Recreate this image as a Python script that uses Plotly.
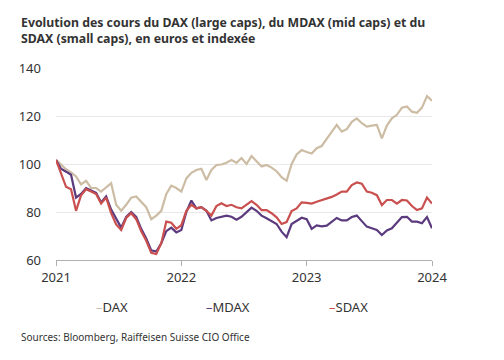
import pandas as pd
import plotly.graph_objects as go

# --- data (indexed, euros) ---
dax = [101.7, 99.6, 97.8, 96.5, 94.8, 91.5, 93.0, 90.0, 90.0, 88.5,
       90.3, 92.0, 83.0, 80.5, 83.0, 86.0, 86.5, 84.3, 82.0, 77.0,
       78.5, 80.5, 87.5, 91.0, 90.0, 88.5, 94.0, 96.3, 97.5, 98.0,
       93.3, 97.5, 99.6, 99.8, 100.5, 101.7, 100.5, 102.5, 100.0, 103.3,
       101.0, 99.0, 99.6, 98.5, 97.0, 94.5, 93.0, 100.0, 104.0, 105.8,
       105.0, 104.4, 106.6, 107.5, 110.5, 113.5, 116.3, 113.5, 114.5, 117.6,
       119.0, 117.0, 115.6, 116.0, 116.3, 110.7, 116.0, 119.0, 120.5, 123.5,
       124.0, 121.8, 121.3, 123.5, 128.3, 126.4]
mdax = [101.7, 98.0, 96.8, 95.5, 86.0, 87.5, 90.0, 89.0, 88.0, 84.0,
        86.5, 81.0, 77.0, 73.5, 78.0, 80.0, 78.0, 73.0, 69.0, 64.0,
        63.5, 67.0, 72.0, 73.5, 71.5, 72.5, 80.0, 84.8, 81.5, 82.0,
        80.5, 76.5, 77.5, 78.0, 78.5, 78.0, 76.8, 78.0, 80.0, 81.8,
        80.5, 78.5, 77.4, 76.2, 75.0, 71.8, 69.5, 75.0, 76.2, 77.6,
        77.0, 73.0, 74.4, 74.0, 74.3, 75.8, 77.5, 76.5, 76.5, 77.9,
        78.5, 76.2, 73.9, 73.2, 72.5, 70.4, 72.3, 73.2, 75.5, 77.9,
        78.0, 76.0, 76.0, 75.3, 77.9, 73.2]
sdax = [101.7, 96.0, 90.5, 89.5, 80.5, 87.0, 89.5, 88.5, 87.5, 83.5,
        86.0, 79.5, 74.8, 72.5, 77.5, 79.5, 77.0, 72.0, 68.0, 63.0,
        62.5, 67.0, 76.0, 75.5, 73.0, 74.5, 80.5, 83.0, 81.5, 82.0,
        80.5, 78.5, 82.5, 83.6, 82.5, 83.0, 82.0, 81.5, 83.0, 84.5,
        83.0, 80.8, 80.8, 79.5, 77.8, 75.0, 75.8, 80.4, 81.5, 84.0,
        83.8, 83.5, 84.3, 85.0, 85.5, 86.3, 87.3, 88.5, 88.5, 91.2,
        92.3, 91.8, 88.5, 88.0, 87.0, 82.9, 85.0, 85.0, 83.5, 85.0,
        84.8, 82.5, 80.8, 81.5, 86.0, 83.5]
dates = pd.date_range("2021-01-01", "2024-01-01", periods=len(dax))
tick_vals = ["2021-01-01", "2022-01-01", "2023-01-01", "2024-01-01"]
tick_text = ["2021", "2022", "2023", "2024"]
series_names = ["DAX", "MDAX", "SDAX"]
colors = ["#cdbca4", "#5b3a7e", "#c9504f"]

fig = go.Figure()
for name, vals, col in zip(series_names, [dax, mdax, sdax], colors):
    fig.add_trace(go.Scatter(x=dates, y=vals, mode="lines", name=name,
                             line=dict(color=col, width=2.2), showlegend=False))

font_family = "Noto Sans, Open Sans, sans-serif"
PL, PT, PW, PH = 48, 60, 376, 192   # plot area inside the figure


def px(x_fig):
    return (x_fig - PL) / PW


def py(y_fig):
    return 1 - (y_fig - PT) / PH


fig.update_layout(
    width=496, height=352,
    margin=dict(l=PL, r=496 - PL - PW, t=PT, b=352 - PT - PH),
    paper_bgcolor="white", plot_bgcolor="white",
    font=dict(family=font_family, size=13, color="#333333"),
    xaxis=dict(tickvals=tick_vals, ticktext=tick_text,
               range=["2021-01-01", "2024-01-01"],
               showgrid=False, showline=True, linecolor="#b0b0b0", linewidth=1,
               ticks="outside", ticklen=5, tickcolor="#b0b0b0",
               tickfont=dict(size=13, color="#333333")),
    yaxis=dict(range=[60, 140], tickvals=[60, 80, 100, 120, 140],
               showgrid=True, gridcolor="#e8e8e8", gridwidth=1,
               zeroline=False, showline=False, ticks="", ticklabelstandoff=14,
               tickfont=dict(size=13, color="#333333")),
)

fig.add_annotation(
    text="<b>Evolution des cours du DAX (large caps), du MDAX (mid caps) et du<br>SDAX (small caps), en euros et indexée</b>",
    xref="paper", yref="paper", x=px(11), y=py(4),
    xanchor="left", yanchor="top", align="left", showarrow=False,
    font=dict(size=12.3, color="#333333", family=font_family))

legend_x = [86, 196, 319]
for name, col, lx in zip(series_names, colors, legend_x):
    fig.add_annotation(
        text=f"<span style='color:{col}'>–</span>{name}",
        xref="paper", yref="paper", x=px(lx), y=py(299),
        xanchor="left", yanchor="middle", showarrow=False,
        font=dict(size=13, color="#333333", family=font_family))

fig.add_annotation(
    text="Sources: Bloomberg, Raiffeisen Suisse CIO Office",
    xref="paper", yref="paper", x=px(11), y=py(329),
    xanchor="left", yanchor="middle", showarrow=False,
    font=dict(size=10, color="#333333", family=font_family))

fig.write_html("out.html")
